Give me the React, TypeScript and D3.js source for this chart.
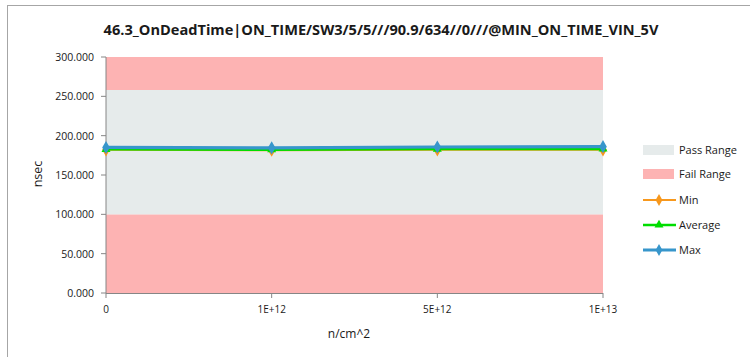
import React from "react";
import * as d3 from "d3";

const categories = ["0", "1E+12", "5E+12", "1E+13"];
const minValues = [182.0, 181.5, 182.0, 182.0];
const avgValues = [182.6, 182.2, 183.0, 183.2];
const maxValues = [185.0, 184.5, 185.6, 186.0];
const passRange = [100, 258];
const failRanges = [[0, 100], [258, 300]];
const yTicks = [0, 50, 100, 150, 200, 250, 300];
const title = "46.3_OnDeadTime|ON_TIME/SW3/5/5///90.9/634//0///@MIN_ON_TIME_VIN_5V";

const W = 750, H = 357;
const left = 106, right = 603, top = 57, bottom = 293;
const FONT = "'Open Sans', 'Liberation Sans', sans-serif";

export default function App() {
  const x = d3.scalePoint<string>().domain(categories).range([left, right]);
  const y = d3.scaleLinear().domain([0, 300]).range([bottom, top]);
  const line = d3.line<number>().x((_, i) => x(categories[i])!).y((d) => y(d));

  const series = [
    { name: "Min", values: minValues, color: "#F7981D", width: 2, marker: "diamond" },
    { name: "Average", values: avgValues, color: "#00DD00", width: 2.5, marker: "triangle" },
    { name: "Max", values: maxValues, color: "#3796CB", width: 3.2, marker: "diamond" },
  ];

  const marker = (type: string, cx: number, cy: number, color: string, s: number) => {
    const p = d3.symbol().type(type === "triangle" ? d3.symbolTriangle : d3.symbolDiamond).size(s * 10)();
    return <path d={p!} transform={`translate(${cx},${cy})`} fill={color} />;
  };

  const legendX = 643, legendTextX = 679;
  const legendYs = [150, 174, 200, 225, 250];

  return (
    <svg width={W} height={H} style={{ position: "absolute", left: 0, top: 0 }}>
      <rect x={0} y={0} width={W} height={H} fill="#fff" />
      <rect x={7.5} y={5.5} width={760} height={370} fill="#fff" stroke="#A6A6A6" strokeWidth={1} />
      <text x={381} y={35} textAnchor="middle" fontFamily={FONT} fontWeight="bold" fontSize={14.6} fill="#1a1a1a">
        {title}
      </text>
      {failRanges.map((r, i) => (
        <rect key={i} x={left} width={right - left} y={y(r[1])} height={y(r[0]) - y(r[1])} fill="#FDB3B3" />
      ))}
      <rect x={left} width={right - left} y={y(passRange[1])} height={y(passRange[0]) - y(passRange[1])} fill="#E6EBEB" />
      <line x1={left} x2={left} y1={top} y2={bottom} stroke="#868686" />
      <line x1={left} x2={right} y1={bottom + 0.5} y2={bottom + 0.5} stroke="#868686" />
      {yTicks.map((t) => (
        <g key={t}>
          <line x1={left - 5} x2={left} y1={y(t)} y2={y(t)} stroke="#868686" />
          <text x={left - 12} y={y(t) + 4} textAnchor="end" fontFamily={FONT} fontSize={10.5} fill="#1a1a1a">
            {t.toFixed(3)}
          </text>
        </g>
      ))}
      {categories.map((c) => (
        <g key={c}>
          <line x1={x(c)!} x2={x(c)!} y1={bottom} y2={bottom + 5} stroke="#868686" />
          <text x={x(c)!} y={bottom + 20} textAnchor="middle" fontFamily={FONT} fontSize={10} fill="#1a1a1a">
            {c}
          </text>
        </g>
      ))}
      <text x={349} y={338} textAnchor="middle" fontFamily={FONT} fontSize={12} fill="#1a1a1a">n/cm^2</text>
      <text transform={`translate(42,174) rotate(-90)`} textAnchor="middle" fontFamily={FONT} fontSize={12.5} fill="#1a1a1a">nsec</text>
      {series.map((s) => (
        <g key={s.name}>
          <path d={line(s.values)!} fill="none" stroke={s.color} strokeWidth={s.width} />
          {s.values.map((v, i) => (
            <g key={i}>{marker(s.marker, x(categories[i])!, y(v), s.color, s.marker === "triangle" ? 3.5 : 5)}</g>
          ))}
        </g>
      ))}
      <rect x={legendX} y={legendYs[0] - 5} width={31} height={10} fill="#E6EBEB" />
      <rect x={legendX} y={legendYs[1] - 5} width={31} height={10} fill="#FDB3B3" />
      {series.map((s, i) => {
        const ly = legendYs[i + 2];
        return (
          <g key={s.name}>
            <line x1={legendX} x2={legendX + 33} y1={ly} y2={ly} stroke={s.color} strokeWidth={s.width} />
            {marker(s.marker, legendX + 16, ly, s.color, s.marker === "triangle" ? 3.5 : 4)}
          </g>
        );
      })}
      {["Pass Range", "Fail Range", "Min", "Average", "Max"].map((t, i) => (
        <text key={t} x={legendTextX} y={legendYs[i] + 4} fontFamily={FONT} fontSize={11} fill="#1a1a1a">{t}</text>
      ))}
    </svg>
  );
}
